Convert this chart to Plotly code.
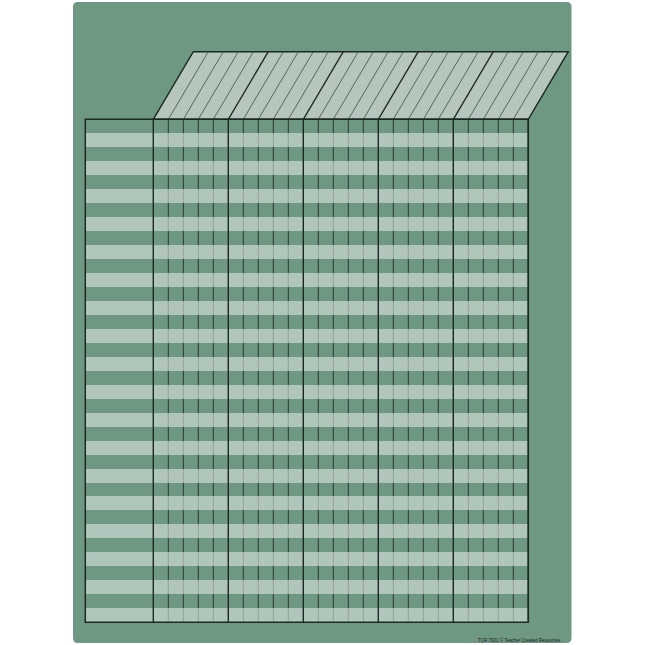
import plotly.graph_objects as go

# chart content
columns = list(range(1, 26))      # tally columns under the slanted header
rows = list(range(1, 37))         # name rows
heavy_every = 5                   # every 5th column line is heavy
footer = "TCR 7921 © Teacher Created Resources"

# page geometry (pixels) -> chart units (1 column wide, 1 row high)
W = H = 645
X0, CW = 153.3, 15.0
Y0, RH = 119.3, 13.97


def ux(px):
    return (px - X0) / CW


def uy(py):
    return (py - Y0) / RH


board_col = "rgb(110,152,130)"
light_col = "rgb(222,230,224)"
head_col = "rgb(181,199,188)"
dark = "rgb(28,40,33)"
thin = "rgb(40,58,48)"

n_cols = len(columns)
n_rows = len(rows)
name_w = ux(85.3)                 # left edge of the name column (negative)
top = uy(51.7)                    # top of the slanted header
slant = 40.0 / CW                 # horizontal offset of the header

fig = go.Figure()

# light stripes on every second row
light_rows = [r for r in rows if r % 2 == 0]
fig.add_trace(go.Bar(
    y=[r - 0.5 for r in light_rows],
    x=[n_cols - name_w] * len(light_rows),
    base=name_w,
    width=1,
    orientation="h",
    marker=dict(color=light_col, line=dict(width=0)),
    opacity=0.6,
    hoverinfo="skip",
    showlegend=False,
))

shapes = []

# board with rounded corners
bx0, bx1, by0, by1 = 73, 571.5, 2, 643
r = 5
path = (f"M {ux(bx0 + r)},{uy(by0)} L {ux(bx1 - r)},{uy(by0)} "
        f"Q {ux(bx1)},{uy(by0)} {ux(bx1)},{uy(by0 + r)} "
        f"L {ux(bx1)},{uy(by1 - r)} Q {ux(bx1)},{uy(by1)} {ux(bx1 - r)},{uy(by1)} "
        f"L {ux(bx0 + r)},{uy(by1)} Q {ux(bx0)},{uy(by1)} {ux(bx0)},{uy(by1 - r)} "
        f"L {ux(bx0)},{uy(by0 + r)} Q {ux(bx0)},{uy(by0)} {ux(bx0 + r)},{uy(by0)} Z")
shapes.append(dict(type="path", path=path, fillcolor=board_col,
                   line=dict(width=0), layer="below"))

# column lines in the grid
for k in range(0, n_cols + 1):
    heavy = k % heavy_every == 0
    shapes.append(dict(type="line", x0=k, x1=k, y0=0, y1=n_rows,
                       line=dict(color=dark if heavy else thin,
                                 width=1.4 if heavy else 1),
                       layer="above" if heavy else "below"))

# slanted header
hp = (f"M 0,0 L {slant},{top} L {n_cols + slant},{top} L {n_cols},0 Z")
shapes.append(dict(type="path", path=hp, fillcolor=head_col,
                   line=dict(color=dark, width=1.4), layer="above"))
for k in range(1, n_cols):
    heavy = k % heavy_every == 0
    shapes.append(dict(type="line", x0=k, y0=0, x1=k + slant, y1=top,
                       line=dict(color=dark if heavy else "rgb(60,78,68)",
                                 width=1.3 if heavy else 0.8),
                       layer="above"))

# grid border
shapes.append(dict(type="rect", x0=name_w, x1=n_cols, y0=0, y1=n_rows,
                   line=dict(color=dark, width=1.5), layer="above"))

fig.update_layout(
    width=W, height=H, autosize=False,
    margin=dict(l=0, r=0, t=0, b=0),
    paper_bgcolor="white", plot_bgcolor="white",
    shapes=shapes,
    showlegend=False,
    bargap=0,
    xaxis=dict(range=[ux(0), ux(W)], visible=False, fixedrange=True),
    yaxis=dict(range=[uy(H), uy(0)], visible=False, fixedrange=True),
)

fig.add_annotation(x=ux(563), y=uy(640), text=footer, showarrow=False,
                   xanchor="right", yanchor="middle",
                   font=dict(size=4.5, color="rgb(25,35,30)", family="Liberation Sans"))

# the page has a default body margin; remove it so the figure fills the window
fig.write_html("out.html", config={"displayModeBar": False},
               post_script="document.body.style.margin='0';document.body.style.overflow='hidden';")
